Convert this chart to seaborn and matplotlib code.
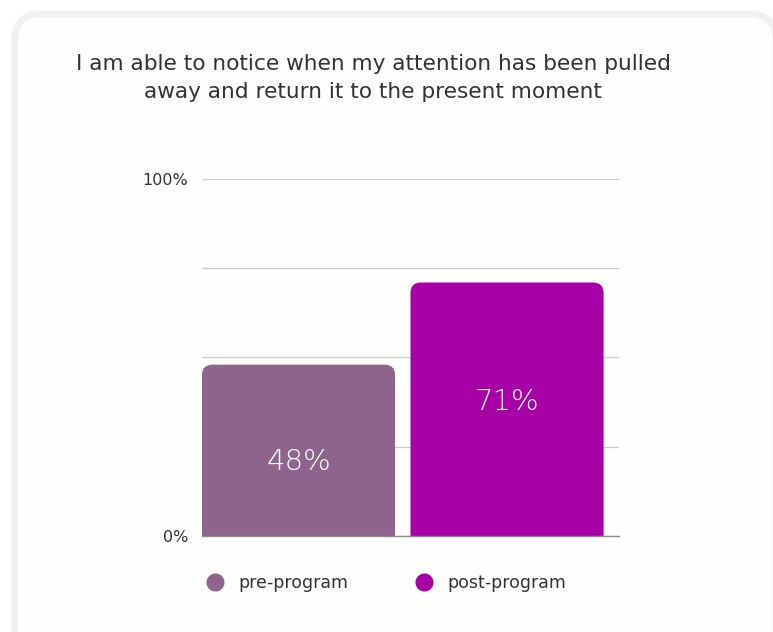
import pandas as pd
import seaborn as sns
import matplotlib.pyplot as plt
from matplotlib.patches import FancyBboxPatch
from matplotlib.lines import Line2D

title = "I am able to notice when my attention has been pulled\naway and return it to the present moment"
groups = ["pre-program", "post-program"]
values = [48, 71]
colors = ["#8e648c", "#a600a6"]
label_frac = [0.43, 0.53]  # where the value label sits inside each bar
y_ticks = [0, 25, 50, 75, 100]
y_labels = ["0%", "", "", "", "100%"]

df = pd.DataFrame({"group": groups, "value": values})

sns.set_theme(style="white")
plt.rcParams['font.family'] = ['DejaVu Sans']

fig = plt.figure(figsize=(7.73, 6.32), dpi=100)
fig.patch.set_facecolor("white")

# card background (runs off the right and bottom edges)
card = FancyBboxPatch((0.019, -0.05), 0.985, 1.028, boxstyle="round,pad=0,rounding_size=0.035",
                      transform=fig.transFigure, facecolor="#fefefd", edgecolor="#f1f1f1",
                      linewidth=5, mutation_aspect=773 / 632, zorder=-10)
fig.patches.append(card)

ax = fig.add_axes([0.2613, 0.1519, 0.5395, 0.5649])
ax.set_facecolor("none")

sns.barplot(data=df, x="group", y="value", hue="group", palette=colors, width=0.926,
            dodge=False, legend=False, ax=ax, zorder=3)

ax.set_xlim(-0.463, 1.537)
ax.set_ylim(0, 100)

# swap plain bars for bars with rounded tops; the lower corners fall below the axis and get clipped
bars = list(ax.patches)
asp = (100 / 357) / (2.0 / 417)
for bar, col, v, f in zip(bars, colors, values, label_frac):
    x0, w, h = bar.get_x(), bar.get_width(), bar.get_height()
    bar.set_visible(False)
    top = FancyBboxPatch((x0, -10), w, h + 10, boxstyle="round,pad=0,rounding_size=0.05",
                         mutation_aspect=asp, facecolor=col, edgecolor="none", zorder=3)
    ax.add_patch(top)
    top.set_clip_path(ax.patch)
    ax.text(x0 + w / 2, h * f, f"{v}%", ha="center", va="center", color="white",
            fontsize=21, fontweight="light", zorder=4)

ax.set_yticks(y_ticks)
ax.set_yticklabels(y_labels, fontsize=11.5, color="#333333")
ax.tick_params(axis="y", length=0, pad=10)
ax.set_xticks([])
ax.set_xlabel("")
ax.set_ylabel("")
ax.grid(axis="y", color="#cccccc", linewidth=0.9, zorder=0)
for s in ["top", "right", "left"]:
    ax.spines[s].set_visible(False)
ax.spines["bottom"].set_color("#888888")
ax.spines["bottom"].set_linewidth(1)
ax.spines["bottom"].set_zorder(5)

fig.text(0.483, 0.8766, title, ha="center", va="center", fontsize=15.6,
         color="#333333", linespacing=1.45)

handles = [Line2D([0], [0], marker="o", linestyle="", markersize=12,
                  markerfacecolor=c, markeredgecolor=c) for c in colors]
fig.legend(handles, groups, loc="center left", bbox_to_anchor=(0.236, 0.077), ncol=2,
           frameon=False, fontsize=12.5, handletextpad=0.3, columnspacing=3.4,
           labelcolor="#333333")

fig.savefig("out.png", dpi=100, facecolor=fig.get_facecolor())
